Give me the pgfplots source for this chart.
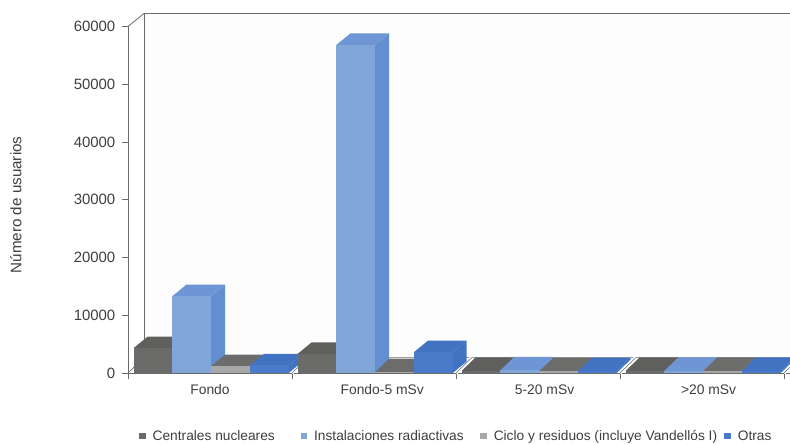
\documentclass[border=0pt]{standalone}
\usepackage{pgfplots}
\usepackage{fontspec}
\setmainfont{Liberation Sans}
\pgfplotsset{compat=1.18}

\definecolor{txt}{HTML}{3E3E3E}
\definecolor{axisgray}{HTML}{6A6A6A}
\definecolor{wallcol}{HTML}{FDFDFD}
\definecolor{darkF}{HTML}{6B6B6A}\definecolor{darkT}{HTML}{5F5F5E}\definecolor{darkS}{HTML}{5F5F5E}
\definecolor{lightF}{HTML}{80A6D9}\definecolor{lightT}{HTML}{6E96D4}\definecolor{lightS}{HTML}{638ECF}
\definecolor{cicF}{HTML}{A8A8A8}\definecolor{cicT}{HTML}{6C6C6B}\definecolor{cicS}{HTML}{6C6C6B}
\definecolor{otrF}{HTML}{4A7ACA}\definecolor{otrT}{HTML}{4272C2}\definecolor{otrS}{HTML}{4272C2}

% one box: group, position within the group, value, colour stem
\newcommand\onebar[4]{%
  \pgfmathsetmacro\xa{#1+0.034+#2*0.2365}%
  \pgfmathsetmacro\xb{\xa+0.2365}%
  \pgfmathsetmacro\xc{\xa+0.0854}%
  \pgfmathsetmacro\xd{\xb+0.0854}%
  \ifnum#3>1000 \def\dep{2000}\else\def\dep{2350}\fi
  \edef\yt{\the\numexpr#3+\dep\relax}%
  \edef\temp{%
    \noexpand\addplot[forget plot,draw=none,fill=#4S] coordinates {(\xb,0) (\xd,\dep) (\xd,\yt) (\xb,#3)} --cycle;
    \noexpand\addplot[forget plot,draw=none,fill=#4T] coordinates {(\xa,#3) (\xc,\yt) (\xd,\yt) (\xb,#3)} --cycle;
    \noexpand\addplot[forget plot,draw=none,fill=#4F] coordinates {(\xa,0) (\xa,#3) (\xb,#3) (\xb,0)} --cycle;
  }\temp}
% one category with its four values
\newcommand\category[5]{%
  \onebar{#1}{0}{#2}{dark}\onebar{#1}{1}{#3}{light}\onebar{#1}{2}{#4}{cic}\onebar{#1}{3}{#5}{otr}}
% floor divider at a category boundary
\newcommand\divider[1]{%
  \pgfmathsetmacro\xs{#1+0.0976}%
  \edef\temp{%
    \noexpand\addplot[forget plot,white,line width=2.6pt] coordinates {(#1,0) (\xs,2700)};
    \noexpand\addplot[forget plot,axisgray,line width=0.4pt] coordinates {(#1,0) (\xs,2700)};
  }\temp}

\begin{document}
\begin{tikzpicture}
\path[use as bounding box,clip] (0,0) rectangle (592.5pt,333pt);
\begin{axis}[
  at={(96pt,53.25pt)}, anchor=origin,
  scale only axis, width=504.3pt, height=259.9pt,
  xmin=0, xmax=4.1, ymin=0, ymax=60000,
  clip=false,
  axis lines=left, axis line style={-,axisgray,line width=0.6pt},
  tick align=outside,
  scaled y ticks=false,
  ytick={0,10000,20000,30000,40000,50000,60000},
  yticklabel style={/pgf/number format/fixed,/pgf/number format/1000 sep={},
    /pgf/number format/assume math mode=true,xshift=-1.5pt,
    font=\fontsize{11.2}{13}\selectfont,text=txt},
  ylabel={Número de usuarios},
  ylabel style={font=\fontsize{11.4}{13}\selectfont,text=txt,at={(axis description cs:-0.1667,0.485)},anchor=center},
  xtick={0.5,1.55,2.54,3.54},
  xticklabels={Fondo,Fondo-5 mSv,5-20 mSv,>20 mSv},
  xticklabel style={font=\fontsize{10.4}{12}\selectfont,text=txt,yshift=-0.5pt},
  minor xtick={0,1,2,3,4},
  major tick length=4.5pt, minor tick length=4.5pt,
  x tick style={draw=none},
  minor x tick style={draw=axisgray,line width=0.6pt},
  y tick style={draw=axisgray,line width=0.6pt},
  legend columns=4,
  legend cell align=left,
  legend style={at={(axis description cs:0.0165,-0.182)},anchor=west,draw=none,fill=none,
    font=\fontsize{10.3}{12}\selectfont,text=txt,inner sep=0pt,
    /tikz/every even column/.style={column sep=2.5pt}},
  legend image code/.code={\path[#1] (0pt,-2.4pt) rectangle (5pt,2.4pt);},
]
% back wall and floor edges
\addplot[forget plot,draw=none,fill=wallcol] coordinates {(0.0976,2700) (0.0976,62250) (4.3,62250) (4.3,2700)} --cycle;
\addplot[forget plot,axisgray,line width=0.6pt] coordinates {(0,60000) (0.0976,62250) (4.3,62250)};
\addplot[forget plot,axisgray,line width=0.6pt] coordinates {(0.0976,62250) (0.0976,2700)};
\addplot[forget plot,axisgray,line width=0.5pt] coordinates {(0,0) (0.0976,2700) (4.3,2700)};
\addplot[forget plot,white,line width=1.4pt] coordinates {(0.01,250) (4.3,250)};
\divider{1}\divider{2}\divider{3}\divider{4}

% Centrales, Instalaciones, Ciclo, Otras
\category{0}{4300}{13300}{1200}{1300}
\category{1}{3300}{56800}{150}{3600}
\category{2}{350}{450}{300}{300}
\category{3}{350}{350}{350}{350}

\addlegendimage{fill=darkF,draw=none}
\addlegendentry{\strut\hspace*{3pt}Centrales nucleares\hspace*{15pt}}
\addlegendimage{fill=lightF,draw=none}
\addlegendentry{\strut\hspace*{3pt}Instalaciones radiactivas\hspace*{8pt}}
\addlegendimage{fill=cicF,draw=none}
\addlegendentry{\strut\hspace*{3pt}Ciclo y residuos (incluye Vandellós I)\hspace*{1pt}}
\addlegendimage{fill=otrF,draw=none}
\addlegendentry{\strut\hspace*{3pt}Otras}
\end{axis}
\end{tikzpicture}
\end{document}
